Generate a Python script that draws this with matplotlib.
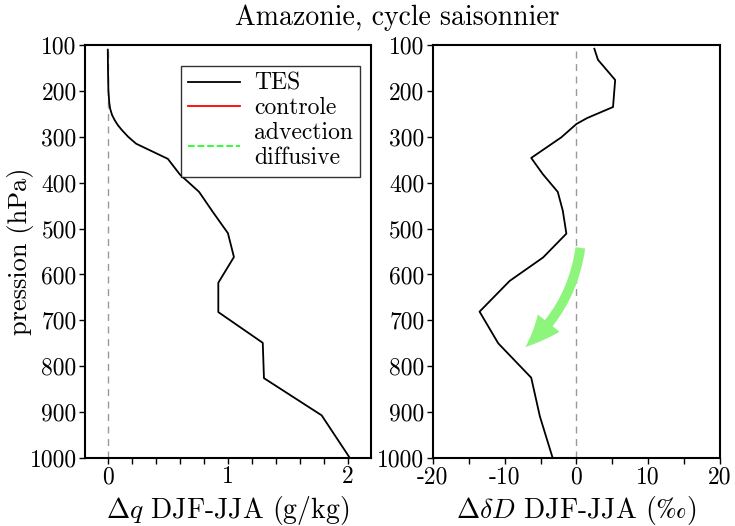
import matplotlib
matplotlib.use("Agg")
import matplotlib.pyplot as plt
from matplotlib.patches import FancyArrowPatch
from matplotlib.lines import Line2D

plt.rcParams['font.family'] = ['cmr10', 'DejaVu Serif']
plt.rcParams['mathtext.fontset'] = 'cm'
plt.rcParams['axes.unicode_minus'] = False
plt.rcParams['axes.formatter.use_mathtext'] = False

# TES profiles, DJF minus JJA
p_q = [110, 160, 199, 225, 239, 252, 263, 275, 286, 300, 315, 348, 382, 420, 464,
       510, 562, 618, 682, 749, 826, 907, 998]
dq = [0.0, 0.002, 0.005, 0.012, 0.02, 0.035, 0.056, 0.085, 0.12, 0.17, 0.236, 0.5,
      0.6, 0.76, 0.875, 1.0, 1.05, 0.92, 0.92, 1.29, 1.3, 1.78, 2.01]

p_dd = [108, 132, 176, 235, 259, 272, 301, 346, 381, 420, 461, 511, 563, 614, 681,
        750, 825, 909, 998]
ddD = [2.5, 3.0, 5.4, 5.1, 1.5, 0.0, -2.1, -6.3, -4.7, -2.6, -1.9, -1.4, -4.65, -9.3,
       -13.5, -10.9, -6.3, -5.1, -3.35]

pressure_ticks = [100, 200, 300, 400, 500, 600, 700, 800, 900, 1000]

fig = plt.figure(figsize=(7.35, 5.26), dpi=100)
ax1 = fig.add_axes([0.1156, 0.1293, 0.389, 0.785])
ax2 = fig.add_axes([0.589, 0.1293, 0.3905, 0.785])

for ax in (ax1, ax2):
    ax.set_ylim(1000, 100)
    ax.set_yticks(pressure_ticks)
    ax.tick_params(axis='both', which='both', direction='out', length=4, width=1,
                   labelsize=17, pad=2)
    ax.axvline(0, color='#999999', lw=1, ls=(0, (5, 4)), zorder=1)
    for s in ax.spines.values():
        s.set_linewidth(1.5)

ax1.plot(dq, p_q, color='black', lw=1.3)
ax1.set_xlim(-0.19, 2.19)
ax1.set_xticks([0, 1, 2])
ax1.set_xticks([x * 0.2 for x in range(0, 11)], minor=True)
ax1.set_xlabel(r'$\Delta q$ DJF-JJA (g/kg)', fontsize=20, labelpad=4)
ax1.set_ylabel('pression (hPa)', fontsize=19)
ax1.yaxis.set_label_coords(-0.18, 0.5)

handles = [Line2D([], [], color='black', lw=1.3),
           Line2D([], [], color='red', lw=1.3),
           Line2D([], [], color='#22ff22', lw=1.3, ls='--')]
leg = ax1.legend(handles, ['TES', 'controle', 'advection\ndiffusive'],
                 loc='upper right', bbox_to_anchor=(0.962, 0.95), fontsize=17,
                 frameon=True, fancybox=False, edgecolor='black', handlelength=2.2,
                 labelspacing=0.1, borderpad=0.3, handletextpad=0.6,
                 borderaxespad=0)
leg.get_frame().set_linewidth(1)

ax2.plot(ddD, p_dd, color='black', lw=1.3)
ax2.set_xlim(-20, 20)
ax2.set_xticks([-20, -10, 0, 10, 20])
ax2.set_xticks(range(-20, 21, 5), minor=True)
ax2.set_xlabel(r'$\Delta\delta D$ DJF-JJA ($‰$)', fontsize=20, labelpad=4)

arrow = FancyArrowPatch((0.6, 536), (-7.4, 762), connectionstyle='arc3,rad=-0.2',
                        arrowstyle='simple,head_width=20,head_length=24,tail_width=7',
                        color='#8ef57c', lw=0, zorder=3)
ax2.add_patch(arrow)

fig.text(0.541, 0.966, 'Amazonie, cycle saisonnier', ha='center', va='center', fontsize=20)

fig.savefig('out.png', dpi=100)
